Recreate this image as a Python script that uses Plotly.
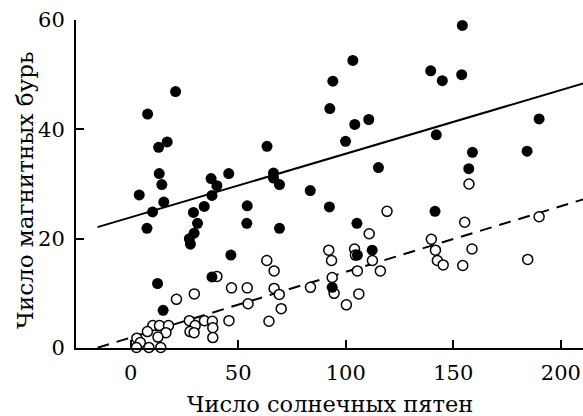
import plotly.graph_objects as go

# Filled circles (dark series)
storm_x = [7.9, 20.9, 13.0, 17.0, 13.3, 14.5, 4.0, 15.4, 10.2, 7.6, 12.5, 15.1,
           37.4, 45.6, 40.1, 37.8, 34.2, 29.2, 31.1, 29.5, 27.3, 27.8, 54.2, 54.0,
           46.6, 37.8, 63.4, 66.4, 66.4, 69.2, 83.5, 92.4, 69.2, 93.7, 94.0, 103.3,
           92.6, 104.2, 110.7, 99.9, 115.2, 105.2, 112.3, 105.4, 139.5, 144.9, 142.1,
           141.5, 154.2, 153.9, 158.9, 157.2, 184.3, 189.9]
storm_y = [42.8, 46.9, 36.7, 37.7, 31.9, 29.9, 28.0, 26.7, 24.9, 21.9, 11.8, 6.9,
           31.0, 31.9, 29.7, 27.9, 25.9, 24.8, 22.8, 21.0, 20.0, 19.0, 26.0, 22.8,
           17.0, 13.0, 36.9, 32.0, 31.1, 29.9, 28.8, 25.8, 21.9, 11.1, 48.8, 52.6,
           43.8, 40.9, 41.8, 37.8, 33.0, 22.8, 17.9, 17.0, 50.7, 48.9, 39.0,
           25.0, 59.0, 50.0, 35.8, 32.8, 36.0, 41.9]

# Open circles (light series)
open_x = [40.1, 21.3, 29.6, 46.9, 54.2, 54.6, 45.7, 27.3, 30.0, 34.3, 38.0, 38.2,
          38.2, 27.6, 29.5, 10.3, 13.4, 17.6, 16.4, 12.7, 7.8, 2.9, 4.5, 2.7, 8.5,
          14.0, 119.2, 110.9, 139.8, 141.7, 142.6, 145.3, 92.1, 93.4, 93.7, 94.6,
          104.1, 104.5, 112.4, 105.4, 116.1, 106.1, 100.3, 83.6, 63.3, 66.7, 66.7,
          69.1, 70.0, 64.3, 157.3, 155.3, 189.9, 158.7, 154.4, 184.6]
open_y = [13.1, 8.9, 9.9, 11.0, 11.0, 8.1, 5.0, 5.0, 4.1, 5.0, 4.9, 3.7,
          1.9, 3.0, 2.8, 4.1, 4.1, 4.1, 2.8, 2.0, 3.0, 1.8, 1.0, 0.1, 0.1,
          0.1, 25.0, 20.9, 19.9, 17.9, 16.0, 15.2, 17.9, 16.0, 12.9, 10.0,
          18.1, 17.0, 16.0, 14.1, 14.1, 9.9, 7.9, 11.1, 16.0, 14.1, 10.9,
          9.8, 7.2, 4.9, 30.0, 23.0, 24.0, 18.1, 15.1, 16.2]

# Regression lines: intercept, slope, and x extent
line_x = [-15.4, 215.0]
solid_coef = [23.9, 0.1164]
dashed_coef = [1.9, 0.1202]

x_ticks = [0, 50, 100, 150, 200]
y_ticks = [0, 20, 40, 60]

FONT = "DejaVu Serif"

fig = go.Figure()
fig.add_trace(go.Scatter(
    x=line_x, y=[solid_coef[0] + solid_coef[1] * v for v in line_x],
    mode="lines", line=dict(color="black", width=2), showlegend=False))
fig.add_trace(go.Scatter(
    x=line_x, y=[dashed_coef[0] + dashed_coef[1] * v for v in line_x],
    mode="lines", line=dict(color="black", width=2, dash="12px,8px"), showlegend=False))
fig.add_trace(go.Scatter(
    x=open_x, y=open_y, mode="markers",
    marker=dict(symbol="circle", size=10, color="white", line=dict(color="black", width=1.5)),
    showlegend=False, cliponaxis=False))
fig.add_trace(go.Scatter(
    x=storm_x, y=storm_y, mode="markers",
    marker=dict(symbol="circle", size=11, color="black", line=dict(color="black", width=0)),
    showlegend=False, cliponaxis=False))

fig.update_layout(
    width=583, height=416,
    margin=dict(l=76, r=0, t=20, b=68),
    paper_bgcolor="white", plot_bgcolor="white",
    font=dict(family=FONT, size=21, color="black"),
    xaxis=dict(range=[-25.4, 210.3], tickvals=x_ticks, showgrid=False, zeroline=False,
               showline=True, linecolor="black", linewidth=2,
               ticks="inside", ticklen=8, tickwidth=2, tickcolor="black",
               ticklabelstandoff=5, tickfont=dict(family=FONT, size=21)),
    yaxis=dict(range=[0, 60], tickvals=y_ticks, showgrid=False, zeroline=False,
               showline=True, linecolor="black", linewidth=2,
               ticks="inside", ticklen=8, tickwidth=2, tickcolor="black",
               ticklabelstandoff=5, tickfont=dict(family=FONT, size=21)),
    annotations=[
        dict(text="Число солнечных пятен", xref="paper", yref="paper",
             x=0.501, y=-0.172, xanchor="center", yanchor="middle", showarrow=False,
             font=dict(family=FONT, size=22.5)),
        dict(text="Число магнитных бурь", xref="paper", yref="paper",
             x=-0.1006, y=0.482, xanchor="center", yanchor="middle", showarrow=False,
             textangle=-90, font=dict(family=FONT, size=23)),
    ],
)

fig.write_html("out.html")
